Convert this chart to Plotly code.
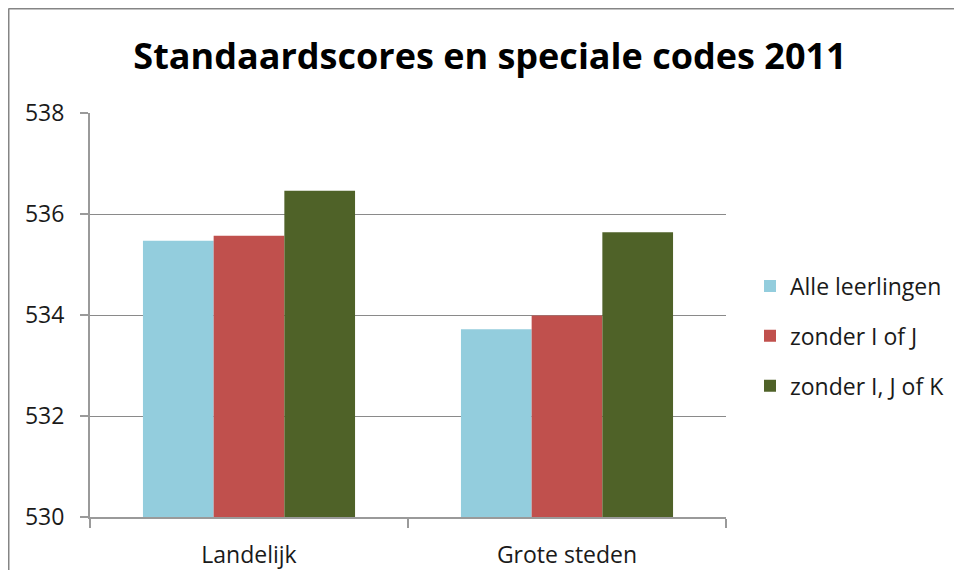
import plotly.graph_objects as go

categories = ["Landelijk", "Grote steden"]
series_names = ["Alle leerlingen", "zonder I of J", "zonder I, J of K"]
alle_leerlingen = [535.47, 533.72]
zonder_i_of_j = [535.57, 533.99]
zonder_ijk = [536.46, 535.64]
colors = ["#93CDDD", "#C0504D", "#4F6228"]
y_ticks = [530, 532, 534, 536, 538]

# the page has an 8px body margin; size the figure so nothing overflows the window
W, H = 946, 562
L, R, T, B = 82, 228, 105, 53
PW, PH = W - L - R, H - T - B

fig = go.Figure()
for i, (name, vals) in enumerate(zip(series_names, [alle_leerlingen, zonder_i_of_j, zonder_ijk])):
    fig.add_trace(go.Bar(
        x=categories, y=vals, name=name, legendgroup=f"g{i}",
        marker=dict(color=colors[i], line=dict(width=0)),
    ))

FONT = "Open Sans"
TXT = "#1a1a1a"
fig.update_layout(
    width=W, height=H,
    paper_bgcolor="white", plot_bgcolor="white",
    margin=dict(l=L, r=R, t=T, b=B, autoexpand=False),
    barmode="group", bargap=0.333, bargroupgap=0,
    title=dict(text="<b>Standaardscores en speciale codes 2011</b>",
               x=482 / W, xanchor="center", xref="container",
               y=1 - 48 / H, yanchor="middle",
               font=dict(family=FONT, size=36, color="black")),
    font=dict(family=FONT, size=23, color=TXT),
    legend=dict(x=(742 - L) / PW, xanchor="left", xref="paper",
                y=(PH + T - 328) / PH, yanchor="middle",
                traceorder="grouped", tracegroupgap=17,
                font=dict(family=FONT, size=23, color=TXT),
                bgcolor="rgba(0,0,0,0)"),
    showlegend=True,
)
fig.update_yaxes(range=[530, 538], tickvals=y_ticks, showgrid=True, gridcolor="#8a8a8a", gridwidth=1,
                 showline=True, linecolor="#9a9a9a", linewidth=2, ticks="outside", ticklen=8,
                 tickcolor="#9a9a9a", tickwidth=2, zeroline=False, ticklabelstandoff=11,
                 tickfont=dict(family=FONT, size=23, color=TXT))
fig.update_xaxes(showline=True, linecolor="#9a9a9a", linewidth=2, ticks="outside", ticklen=9,
                 tickcolor="#9a9a9a", tickwidth=2, tickson="boundaries", showgrid=False,
                 ticklabelstandoff=16,
                 tickfont=dict(family=FONT, size=23, color=TXT))

# chart-area border: only its left and top edges are inside the picture
bx = (0.5 - L) / PW
by = (PH + T - 0.5) / PH
fig.add_shape(type="line", xref="paper", yref="paper", x0=bx, x1=bx, y0=by, y1=-B / PH,
              line=dict(color="#858585", width=2))
fig.add_shape(type="line", xref="paper", yref="paper", x0=bx, x1=(W - L) / PW, y0=by, y1=by,
              line=dict(color="#858585", width=2))
fig.write_html("out.html")
